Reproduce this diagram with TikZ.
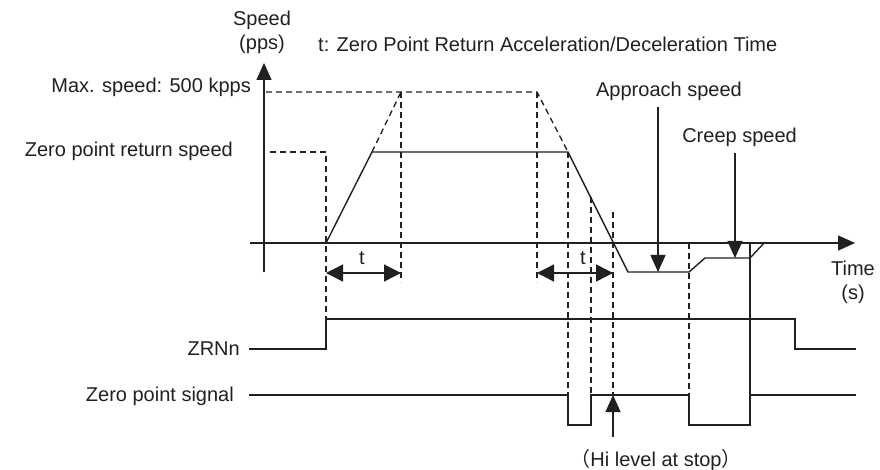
\documentclass[tikz,border=0pt]{standalone}
\usepackage{fontspec}
\setmainfont{Liberation Sans}
\newfontfamily\cjkfont{Noto Sans CJK JP}
\usepackage{xcolor}
\usepackage{tikz}
\usetikzlibrary{arrows.meta, positioning}
\definecolor{ink}{HTML}{231F20}

\begin{document}
\begin{tikzpicture}[
    x=1pt, y=-1pt,
    every node/.style = {inner sep=0pt, text=ink, font=\fontsize{20}{24}\selectfont},
    sig/.style  = {draw=ink, line width=1.4pt},
    dsh/.style  = {draw=ink, line width=1.3pt, dash pattern=on 6pt off 4pt},
    arr/.style  = {draw=ink, line width=1.4pt, -{Triangle[length=17pt, width=15pt]}},
    tarr/.style = {draw=ink, line width=1.4pt,
                   {Triangle[length=17pt, width=17pt]}-{Triangle[length=17pt, width=17pt]}}
  ]
  \useasboundingbox (0,0) rectangle (880,470);

  % key points of the chart
  \coordinate (xl)  at (250,243);
  \coordinate (xr)  at (855,243);
  \coordinate (yb)  at (264,272);
  \coordinate (yt)  at (264,63);
  \coordinate (a0)  at (326,243);
  \coordinate (a1)  at (372,152);
  \coordinate (a2)  at (401,92);
  \coordinate (d0)  at (537,92);
  \coordinate (d1)  at (568,152);
  \coordinate (d2)  at (628,272);
  \coordinate (p1)  at (689,272);
  \coordinate (p2)  at (705,258);
  \coordinate (c1)  at (750,258);
  \coordinate (c2)  at (765,242);
  \coordinate (apx) at (658,272);
  \coordinate (crx) at (735,258);
  \coordinate (hix) at (613,395);

  % labels
  \node[anchor=base] (spd) at (262,26) {Speed};
  \node[anchor=base] (pps) at (262,50) {(pps)};
  \node[anchor=base west] (tnote) at (318,52) {t: Zero Point Return Acceleration/Deceleration Time};
  \node[anchor=base east] (vmax) at (251,93) {Max. speed: 500 kpps};
  \node[anchor=base east] (vzrn) at (233,157) {Zero point return speed};
  \node[anchor=base east] (zrnn) at (240,355) {ZRNn};
  \node[anchor=base east] (zsig) at (234,401) {Zero point signal};
  \node[anchor=base east] (appr) at (742,97) {Approach speed};
  \node[anchor=base east] (creep) at (797,143) {Creep speed};
  \node[anchor=base] (time) at (853,275) {Time};
  \node[anchor=base] (sec)  at (853,299) {(s)};
  \node[anchor=base] (hi)   at (656,466) {{\cjkfont （}Hi level at stop{\cjkfont ）}};
  \node (t1) at (362,258) {t};
  \node (t2) at (583,258) {t};

  % axes
  \draw[arr] (xl) -- (xr);
  \draw[arr] (yb) -- (yt);

  % guide lines
  \draw[dsh] (266,92) -- (d0) -- (d1);
  \draw[dsh] (a1) -- (a2);
  \draw[dsh] (270,152) -- (326,152) -- (326,319);
  \draw[dsh] (a2) -- (401,282);
  \draw[dsh] (d0) -- (537,282);
  \draw[dsh] (d1) -- (568,395);
  \draw[dsh] (591,197) -- (591,395);
  \draw[dsh] (613,212) -- (hix);
  \draw[dsh] (689,243) -- (689,395);

  % speed profile
  \draw[sig] (a0) -- (a1) -- (d1) -- (d2) -- (p1) -- (p2) -- (c1) -- (c2);
  \draw[sig] (750,243) -- (750,425);

  % signals
  \draw[sig] (249,349) -- (326,349) -- (326,319) -- (795,319) -- (795,349) -- (856,349);
  \draw[sig] (249,395) -- (568,395) -- (568,425) -- (591,425) -- (591,395)
             -- (689,395) -- (689,425) -- (750,425) -- (750,395) -- (856,395);

  % arrows
  \draw[tarr] (326,273) -- (401,273);
  \draw[tarr] (537,273) -- (613,273);
  \draw[arr] ([yshift=-6pt]appr.south -| apx) -- (apx);
  \draw[arr] ([yshift=-6pt]creep.south -| crx) -- (crx);
  \draw[arr] ([yshift=12pt]hi.north -| hix) -- (hix);
\end{tikzpicture}
\end{document}
